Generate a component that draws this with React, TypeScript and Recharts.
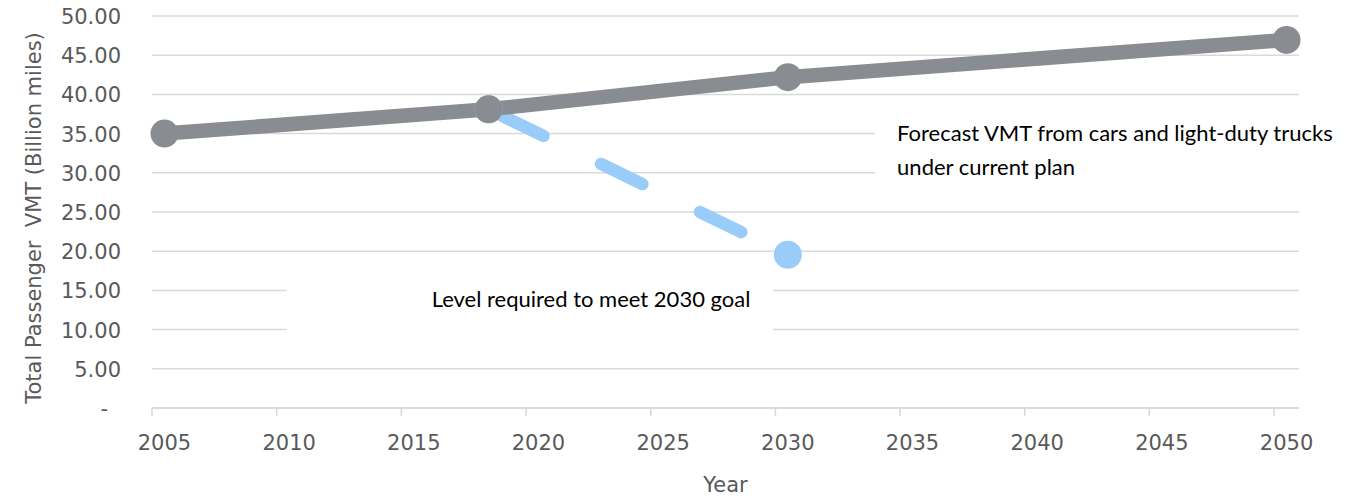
import React from 'react';
import {
  LineChart,
  Line,
  XAxis,
  YAxis,
  CartesianGrid,
  ReferenceArea,
} from 'recharts';

// ---- data ----
const years = [2005, 2018, 2030, 2050];
const forecastVmt = [35.0, 38.1, 42.2, 46.95];
const goalVmt: (number | null)[] = [null, 38.1, 19.55, null];
const xTicks = [2005, 2010, 2015, 2020, 2025, 2030, 2035, 2040, 2045, 2050];
const yTicks = [0, 5, 10, 15, 20, 25, 30, 35, 40, 45, 50];
const forecastLabel = ['Forecast VMT from cars and light-duty trucks', 'under current plan'];
const goalLabel = 'Level required to meet 2030 goal';
const yTitle = 'Total Passenger\u00a0\u00a0VMT (Billion miles)';
const xTitle = 'Year';

const data = years.map((year, i) => ({ year, forecast: forecastVmt[i], goal: goalVmt[i] }));

// ---- styles ----
const W = 1367;
const H = 498;
const MARGIN = { top: 16, right: 68, bottom: 0, left: 0 };
const Y_AXIS_W = 152;
const X_AXIS_H = 90;
const PLOT_W = W - Y_AXIS_W - MARGIN.right;
const HALF_BAND = PLOT_W / 46 / 2;
const GRAY = '#898C90';
const BLUE = '#9ACCFA';
const GRID = '#D9D9D9';
const TEXT = '#595959';
const AXIS_FONT = 'DejaVu Sans, sans-serif';
const NOTE_FONT = 'Lato, sans-serif';
const NOTE_SIZE = 22;

const XTick = (props: any) => {
  const { x, y, payload } = props;
  return (
    <g>
      <line x1={x - HALF_BAND} x2={x - HALF_BAND} y1={y} y2={y + 8} stroke={GRID} strokeWidth={1.5} />
      <text x={x} y={y + 42} textAnchor="middle" fill={TEXT} fontSize={21} fontFamily={AXIS_FONT}>
        {payload.value}
      </text>
    </g>
  );
};

const YTick = (props: any) => {
  const { x, y, payload } = props;
  const v = payload.value as number;
  return (
    <text
      x={v === 0 ? x - 13 : x}
      y={y + 8}
      textAnchor="end"
      fill={TEXT}
      fontSize={21}
      fontFamily={AXIS_FONT}
    >
      {v === 0 ? '-' : v.toFixed(2)}
    </text>
  );
};

const YTitle = (props: any) => {
  const vb = props.viewBox || { x: 0, y: MARGIN.top, width: Y_AXIS_W, height: 392 };
  const cx = vb.x + 40.5;
  const cy = vb.y + vb.height / 2 + 6;
  return (
    <text
      transform={`translate(${cx},${cy}) rotate(-90)`}
      textAnchor="middle"
      fill={TEXT}
      fontSize={21}
      fontFamily={AXIS_FONT}
    >
      {yTitle}
    </text>
  );
};

const XTitle = (props: any) => {
  const vb = props.viewBox;
  return (
    <text
      x={vb.x + vb.width / 2}
      y={vb.y + 84}
      textAnchor="middle"
      fill={TEXT}
      fontSize={21}
      fontFamily={AXIS_FONT}
    >
      {xTitle}
    </text>
  );
};

const ForecastNote = (props: any) => {
  const vb = props.viewBox;
  return (
    <g>
      <text x={vb.x + 22} y={vb.y + 27} fill="#000" fontSize={NOTE_SIZE} fontFamily={NOTE_FONT}>
        {forecastLabel[0]}
      </text>
      <text x={vb.x + 22} y={vb.y + 61} fill="#000" fontSize={NOTE_SIZE} fontFamily={NOTE_FONT}>
        {forecastLabel[1]}
      </text>
    </g>
  );
};

const GoalNote = (props: any) => {
  const vb = props.viewBox;
  return (
    <text x={vb.x + 145} y={vb.y + 36.6} fill="#000" fontSize={NOTE_SIZE} fontFamily={NOTE_FONT}>
      {goalLabel}
    </text>
  );
};

export default function App() {
  return (
    <div style={{ position: 'fixed', left: 0, top: 0, width: W, height: H, background: '#fff' }}>
      <LineChart width={W} height={H} data={data} margin={MARGIN}>
        <CartesianGrid vertical={false} stroke={GRID} strokeWidth={1.5} />
        <XAxis
          dataKey="year"
          type="number"
          domain={[2004.5, 2050.5]}
          ticks={xTicks}
          interval={0}
          height={X_AXIS_H}
          tickSize={0}
          tickMargin={0}
          tickLine={false}
          axisLine={{ stroke: GRID, strokeWidth: 1.5 }}
          tick={<XTick />}
          label={{ content: <XTitle /> } as any}
        />
        <YAxis
          type="number"
          domain={[0, 50]}
          ticks={yTicks}
          interval={0}
          width={Y_AXIS_W}
          tickSize={0}
          tickMargin={31}
          tickLine={false}
          axisLine={false}
          tick={<YTick />}
          label={{ content: <YTitle /> } as any}
        />
        <ReferenceArea
          x1={2033.5}
          x2={2050.5}
          y1={28}
          y2={37.5}
          fill="#fff"
          fillOpacity={1}
          stroke="none"
          label={{ content: <ForecastNote /> } as any}
        />
        <ReferenceArea
          x1={2009.9}
          x2={2029.4}
          y1={7.5}
          y2={17.5}
          fill="#fff"
          fillOpacity={1}
          stroke="none"
          label={{ content: <GoalNote /> } as any}
        />
        <Line
          dataKey="goal"
          stroke={BLUE}
          strokeWidth={12.5}
          strokeDasharray="46 64"
          strokeDashoffset={-15}
          strokeLinecap="round"
          dot={{ r: 14, fill: BLUE, stroke: 'none', strokeWidth: 0 }}
          activeDot={false}
          isAnimationActive={false}
          connectNulls={false}
        />
        <Line
          dataKey="forecast"
          stroke={GRAY}
          strokeWidth={14.5}
          dot={{ r: 14, fill: GRAY, stroke: 'none', strokeWidth: 0 }}
          activeDot={false}
          isAnimationActive={false}
        />
      </LineChart>
    </div>
  );
}
